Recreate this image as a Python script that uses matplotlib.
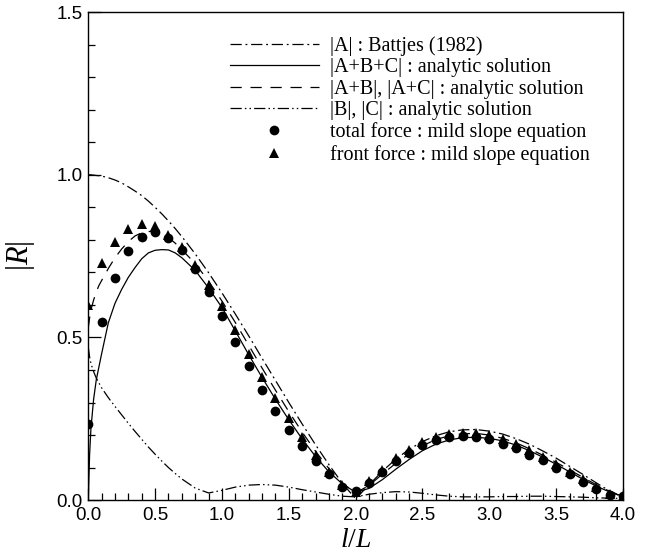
import matplotlib.pyplot as plt
from matplotlib.ticker import MultipleLocator

# x grid for the analytic curves (finer near l/L = 0)
x_line = [0.0, 0.01, 0.02, 0.04, 0.06, 0.08, 0.1, 0.15, 0.2, 0.25, 0.3, 0.35, 0.4, 0.45,
          0.5, 0.55, 0.6, 0.65, 0.7, 0.8, 0.9, 1.0, 1.1, 1.2, 1.3, 1.4, 1.5, 1.6, 1.7,
          1.8, 1.9, 2.0, 2.1, 2.2, 2.3, 2.4, 2.5, 2.6, 2.7, 2.8, 2.9, 3.0, 3.1, 3.2,
          3.3, 3.4, 3.5, 3.6, 3.7, 3.8, 3.9, 4.0]

# |A| : Battjes (1982)
r_a = [1.0, 1.0, 1.0, 0.999, 0.998, 0.997, 0.996, 0.991, 0.984, 0.975, 0.963, 0.950,
       0.936, 0.919, 0.900, 0.880, 0.858, 0.835, 0.810, 0.757, 0.699, 0.637, 0.572,
       0.505, 0.436, 0.368, 0.300, 0.234, 0.170, 0.109, 0.052, 0.004, 0.047, 0.089,
       0.126, 0.156, 0.180, 0.198, 0.210, 0.216, 0.217, 0.212, 0.203, 0.189, 0.172,
       0.151, 0.129, 0.104, 0.079, 0.053, 0.028, 0.008]

# |A+B+C| : analytic solution
r_abc = [0.0, 0.14, 0.22, 0.31, 0.37, 0.41, 0.45, 0.545, 0.605, 0.648, 0.685, 0.715,
         0.742, 0.760, 0.768, 0.770, 0.769, 0.760, 0.745, 0.706, 0.652, 0.592, 0.520,
         0.447, 0.377, 0.310, 0.247, 0.188, 0.134, 0.087, 0.050, 0.024, 0.036, 0.063,
         0.095, 0.125, 0.152, 0.172, 0.185, 0.192, 0.193, 0.190, 0.182, 0.169, 0.152,
         0.132, 0.110, 0.087, 0.064, 0.043, 0.025, 0.012]

# |A+B|, |A+C| : analytic solution
r_ab = [0.53, 0.56, 0.585, 0.615, 0.64, 0.66, 0.675, 0.712, 0.745, 0.772, 0.795, 0.812,
        0.822, 0.826, 0.824, 0.818, 0.807, 0.790, 0.770, 0.727, 0.673, 0.612, 0.546,
        0.476, 0.406, 0.338, 0.272, 0.209, 0.150, 0.097, 0.052, 0.022, 0.045, 0.080,
        0.113, 0.142, 0.167, 0.186, 0.198, 0.204, 0.205, 0.200, 0.190, 0.176, 0.158,
        0.138, 0.116, 0.093, 0.070, 0.047, 0.027, 0.012]

# |B|, |C| : analytic solution
r_b = [0.47, 0.44, 0.42, 0.395, 0.375, 0.36, 0.345, 0.315, 0.288, 0.262, 0.236, 0.211,
       0.187, 0.163, 0.141, 0.120, 0.100, 0.082, 0.065, 0.037, 0.022, 0.030, 0.040,
       0.046, 0.048, 0.046, 0.040, 0.032, 0.025, 0.018, 0.012, 0.010, 0.018, 0.023,
       0.026, 0.025, 0.021, 0.016, 0.012, 0.010, 0.010, 0.010, 0.011, 0.011, 0.012,
       0.012, 0.011, 0.010, 0.009, 0.007, 0.006, 0.005]

# mild slope equation results, l/L = 0.0 ... 4.0 step 0.1
x_pts = [0.0, 0.1, 0.2, 0.3, 0.4, 0.5, 0.6, 0.7, 0.8, 0.9, 1.0, 1.1, 1.2, 1.3, 1.4,
         1.5, 1.6, 1.7, 1.8, 1.9, 2.0, 2.1, 2.2, 2.3, 2.4, 2.5, 2.6, 2.7, 2.8, 2.9,
         3.0, 3.1, 3.2, 3.3, 3.4, 3.5, 3.6, 3.7, 3.8, 3.9, 4.0]
total_force = [0.233, 0.546, 0.683, 0.765, 0.809, 0.823, 0.805, 0.768, 0.710, 0.641,
               0.566, 0.487, 0.412, 0.340, 0.275, 0.216, 0.166, 0.119, 0.079, 0.039,
               0.028, 0.053, 0.087, 0.120, 0.145, 0.170, 0.184, 0.195, 0.197, 0.193,
               0.187, 0.174, 0.159, 0.140, 0.123, 0.100, 0.079, 0.056, 0.035, 0.015,
               0.012]
front_force = [0.601, 0.730, 0.794, 0.832, 0.848, 0.842, 0.815, 0.779, 0.724, 0.661,
               0.597, 0.523, 0.449, 0.379, 0.313, 0.251, 0.193, 0.138, 0.085, 0.045,
               0.025, 0.058, 0.094, 0.128, 0.155, 0.178, 0.193, 0.203, 0.207, 0.206,
               0.200, 0.188, 0.172, 0.153, 0.133, 0.110, 0.087, 0.064, 0.041, 0.020,
               0.014]

plt.rcParams['font.family'] = 'Liberation Sans'
plt.rcParams['mathtext.fontset'] = 'custom'
plt.rcParams['mathtext.it'] = 'Liberation Serif:italic'
plt.rcParams['mathtext.rm'] = 'Liberation Serif'

fig = plt.figure(figsize=(6.49, 5.52), dpi=100)
ax = fig.add_axes([0.136, 0.094, 0.824, 0.884])

lw = 0.9
ax.plot(x_line, r_a, color='black', lw=lw, dashes=(9, 3, 1.5, 3),
        label='|A| : Battjes (1982)')
ax.plot(x_line, r_abc, color='black', lw=lw, label='|A+B+C| : analytic solution')
ax.plot(x_line, r_ab, color='black', lw=lw, dashes=(9, 7),
        label='|A+B|, |A+C| : analytic solution')
ax.plot(x_line, r_b, color='black', lw=lw, dashes=(9, 2.5, 1.2, 2.5, 1.2, 2.5),
        label='|B|, |C| : analytic solution')
ax.plot(x_pts, total_force, 'o', color='black', ms=7, mew=0,
        label='total force : mild slope equation')
ax.plot(x_pts, front_force, '^', color='black', ms=7, mew=0,
        label='front force : mild slope equation')

ax.set_xlim(0, 4)
ax.set_ylim(0, 1.5)
ax.xaxis.set_major_locator(MultipleLocator(0.5))
ax.xaxis.set_minor_locator(MultipleLocator(0.1))
ax.yaxis.set_major_locator(MultipleLocator(0.5))
ax.yaxis.set_minor_locator(MultipleLocator(0.1))
ax.tick_params(which='both', direction='in', top=False, right=False,
               labelsize=13.5, width=0.9)
ax.tick_params(which='major', length=9)
ax.tick_params(which='minor', length=5)
ax.tick_params(axis='x', which='major', pad=5)
ax.tick_params(axis='y', which='major', pad=4)
for s in ax.spines.values():
    s.set_linewidth(1.0)

ax.set_xlabel('$l/L$', fontsize=20, labelpad=2)
ax.set_ylabel('$|R|$', fontsize=22, labelpad=14)

ax.legend(loc='upper left', bbox_to_anchor=(0.25, 0.968), frameon=False,
          prop={'family': 'Liberation Serif', 'size': 14.5},
          handlelength=4.4, handletextpad=0.55, labelspacing=0.12,
          borderaxespad=0)

fig.savefig('out.png', dpi=100)
